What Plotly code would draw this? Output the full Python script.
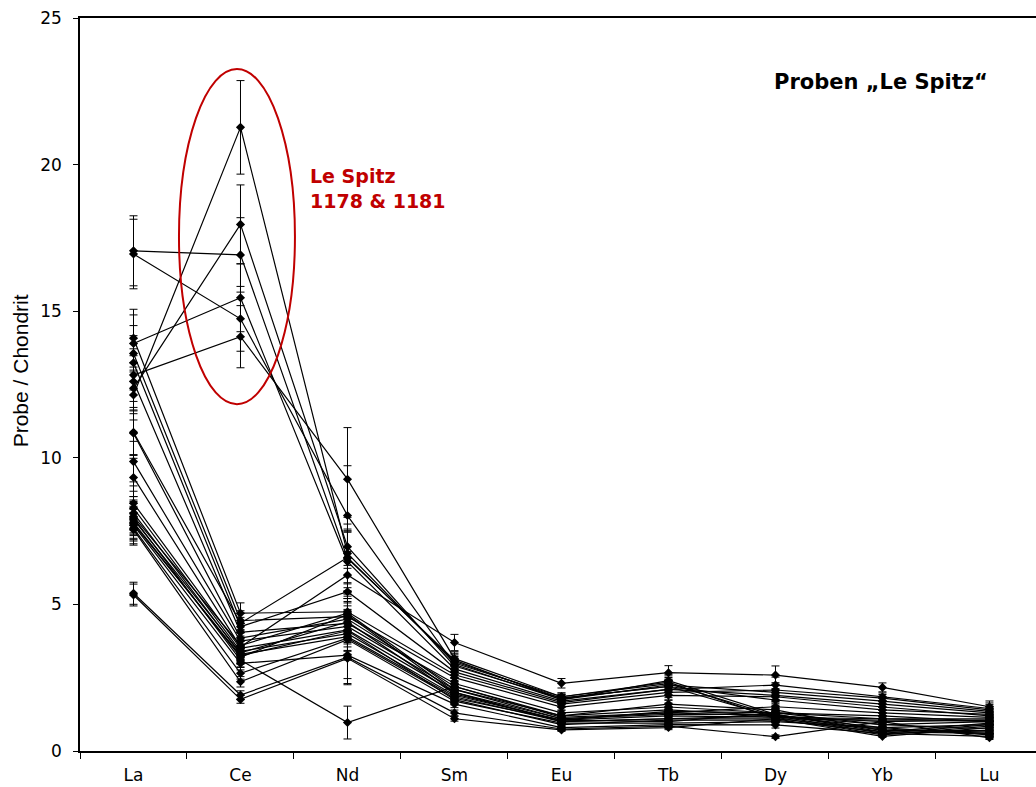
import plotly.graph_objects as go

elements = ["La", "Ce", "Nd", "Sm", "Eu", "Tb", "Dy", "Yb", "Lu"]

# Values per element, one entry per sample (same order in every list)
La = [12.14, 12.37, 17.06, 13.90, 16.95, 12.82,
      14.08, 13.56, 13.24, 12.60, 10.87, 10.84, 9.87, 9.33, 8.45, 8.28, 8.11, 7.95, 7.80, 7.70, 7.60, 7.55, 5.38, 5.32,
      7.90, 7.75, 8.00]
Ce = [21.27, 17.96, 16.92, 15.46, 14.74, 14.13,
      4.70, 4.45, 4.24, 4.05, 4.36, 3.85, 3.75, 3.55, 3.50, 3.40, 3.30, 3.10, 3.20, 2.99, 2.65, 2.36, 1.91, 1.76,
      3.35, 3.25, 3.60]
Nd = [6.74, 6.97, 6.57, 6.46, 8.03, 9.27,
      4.75, 4.58, 5.43, 4.35, 6.60, 4.50, 4.25, 6.00, 4.13, 4.00, 3.90, 0.97, 4.65, 3.27, 3.85, 3.80, 3.20, 3.16,
      4.40, 4.10, 4.70]
Sm = [3.00, 2.90, 3.10, 2.80, 2.95, 3.15,
      2.60, 2.50, 2.70, 2.30, 3.05, 2.20, 2.10, 3.70, 2.00, 1.90, 1.85, 2.20, 2.00, 1.60, 1.80, 1.70, 1.30, 1.10,
      1.95, 1.75, 2.10]
Eu = [1.85, 1.80, 1.75, 1.70, 1.75, 1.85,
      1.60, 1.50, 1.65, 1.30, 1.80, 1.20, 1.10, 2.31, 1.10, 1.05, 1.00, 1.15, 1.00, 0.80, 1.05, 0.95, 0.75, 0.72,
      1.05, 0.90, 1.20]
Tb = [2.30, 2.20, 2.40, 2.10, 2.25, 2.35,
      2.00, 1.90, 2.10, 1.50, 2.20, 1.40, 1.30, 2.67, 1.25, 1.20, 1.10, 1.30, 1.10, 0.90, 1.00, 0.95, 0.85, 0.80,
      1.35, 1.05, 1.60]
Dy = [1.20, 1.15, 1.25, 1.90, 2.00, 1.10,
      2.08, 1.85, 2.25, 1.30, 1.74, 1.20, 1.20, 2.59, 1.25, 1.15, 1.10, 1.51, 1.20, 0.89, 1.30, 1.00, 0.49, 1.10,
      1.30, 1.05, 1.40]
Yb = [0.60, 0.55, 0.65, 1.60, 1.70, 0.50,
      1.80, 1.50, 1.85, 0.90, 1.40, 0.80, 1.00, 2.17, 0.70, 1.10, 0.75, 1.30, 0.90, 0.60, 1.20, 0.80, 1.00, 1.05,
      1.10, 0.65, 0.70]
Lu = [0.90, 0.85, 0.95, 1.30, 1.35, 0.80,
      1.40, 1.20, 1.45, 1.00, 1.25, 0.90, 1.05, 1.51, 0.70, 1.10, 0.60, 1.15, 0.75, 0.50, 1.00, 0.55, 0.45, 1.05,
      1.00, 0.60, 0.65]

# Relative analytical uncertainty per element
rel_err = [0.07, 0.075, 0.18, 0.075, 0.07, 0.09, 0.12, 0.07, 0.13]
# Nd uncertainties are absolute and larger
Nd_err = [1.0, 1.0, 1.0, 1.0, 1.7, 1.76,
          0.7, 0.7, 0.8, 0.7, 0.9, 0.7, 0.7, 0.8, 0.7, 0.7, 0.7, 0.56, 0.7, 0.8, 0.7, 0.7, 0.9, 0.9,
          0.7, 0.7, 0.7]

columns = [La, Ce, Nd, Sm, Eu, Tb, Dy, Yb, Lu]
n = len(La)

fig = go.Figure()
for i in range(n):
    ys = [col[i] for col in columns]
    errs = [ys[k] * rel_err[k] for k in range(len(elements))]
    errs[2] = Nd_err[i]
    fig.add_trace(go.Scatter(
        x=elements, y=ys, mode="lines+markers",
        line=dict(color="black", width=1.2),
        marker=dict(symbol="diamond", size=7, color="black"),
        error_y=dict(type="data", array=errs, visible=True,
                     color="black", thickness=1, width=4),
        showlegend=False, hoverinfo="skip",
    ))

font_tick = "DejaVu Sans, Liberation Sans, Arial, sans-serif"
font_bold = "DejaVu Sans, Liberation Sans, Arial, sans-serif"

fig.add_shape(type="circle", xref="x", yref="y",
              x0=0.425, x1=1.509, y0=11.83, y1=23.26,
              line=dict(color="#C00000", width=2))

fig.add_annotation(x=0.952, y=0.9127, xref="paper", yref="paper",
                   text="<b>Proben „Le Spitz“</b>", showarrow=False,
                   xanchor="right", yanchor="middle",
                   font=dict(family=font_bold, size=21, color="black"))
fig.add_annotation(x=1.63, y=19.17, xref="x", yref="y",
                   text="<b>Le Spitz<br>1178 &amp; 1181</b>", showarrow=False,
                   xanchor="left", yanchor="middle", align="left",
                   font=dict(family=font_bold, size=19, color="#C00000"))
# y-axis title
fig.add_annotation(x=20, y=0.518, xref="paper", yref="paper",
                   text="Probe / Chondrit", showarrow=False, textangle=-90,
                   xanchor="center", yanchor="middle",
                   font=dict(family="Liberation Sans, Arial", size=21, color="black"))
fig.layout.annotations[-1].update(x=-60 / 956)

fig.update_layout(
    width=1036, height=787,
    margin=dict(l=80, r=0, t=18, b=36),
    paper_bgcolor="white", plot_bgcolor="white",
    font=dict(family=font_tick, size=17, color="black"),
    xaxis=dict(
        type="category", range=[-0.5, 8.435],
        showline=True, linecolor="black", linewidth=1.5,
        mirror=True,
        ticks="outside", ticklen=6, tickcolor="black", tickwidth=1,
        tickson="boundaries", showgrid=False, zeroline=False,
        tickfont=dict(family=font_tick, size=17),
        ticklabelstandoff=8,
    ),
    yaxis=dict(
        range=[0, 25], dtick=5,
        showline=True, linecolor="black", linewidth=1.5,
        ticks="outside", ticklen=5, tickcolor="black", tickwidth=1,
        showgrid=False, zeroline=False,
        tickfont=dict(family=font_tick, size=17),
        ticklabelstandoff=8,
    ),
)

fig.write_html("out.html")
